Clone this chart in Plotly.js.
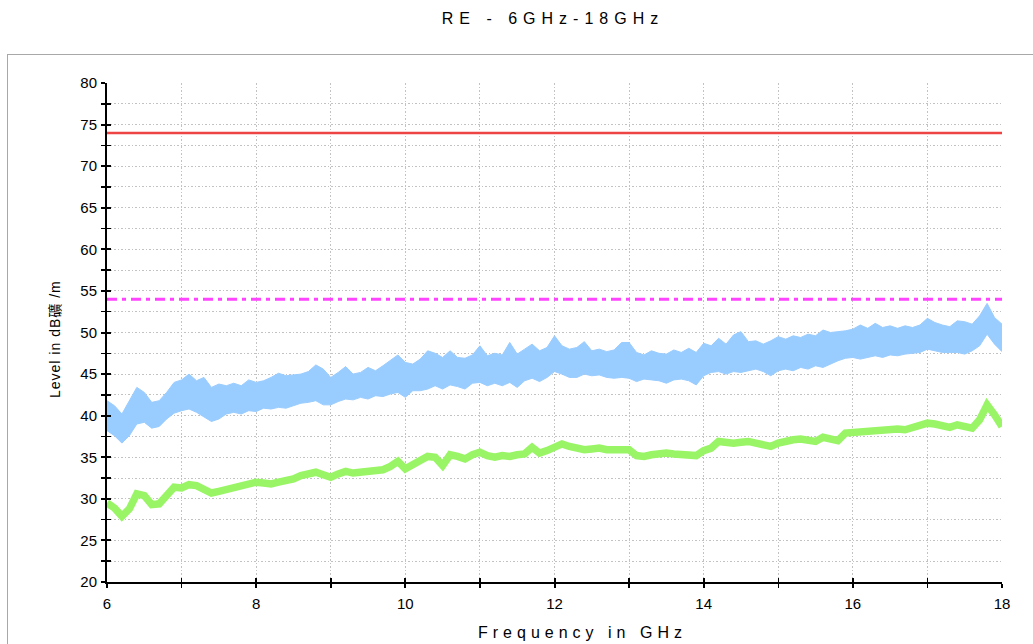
<!DOCTYPE html>
<html><head><meta charset="utf-8">
<script src="https://cdn.plot.ly/plotly-3.0.1.min.js"></script>
<style>
html,body{margin:0;padding:0;background:#fff;overflow:hidden;width:1033px;height:644px;}
#frame{position:absolute;left:7px;top:54px;width:1200px;height:800px;border-left:1px solid #a8a8a8;border-top:1px solid #a8a8a8;pointer-events:none;z-index:5;}
#plot{position:absolute;left:0;top:0;width:1033px;height:644px;}
</style></head>
<body>
<div id="plot"></div>
<div id="frame"></div>
<script>
// Limit lines
const limitFreq = [6, 18];
const peakLimit = [74, 74];
const avgLimit = [54, 54];

// Peak detector band, read every 0.1 GHz (upper and lower envelope, dBuV/m)
const peakFreq = [6.0,6.1,6.2,6.3,6.4,6.5,6.6,6.7,6.8,6.9,7.0,7.1,7.2,7.3,7.4,7.5,7.6,7.7,7.8,7.9,8.0,8.1,8.2,8.3,8.4,8.5,8.6,8.7,8.8,8.9,9.0,9.1,9.2,9.3,9.4,9.5,9.6,9.7,9.8,9.9,10.0,10.1,10.2,10.3,10.4,10.5,10.6,10.7,10.8,10.9,11.0,11.1,11.2,11.3,11.4,11.5,11.6,11.7,11.8,11.9,12.0,12.1,12.2,12.3,12.4,12.5,12.6,12.7,12.8,12.9,13.0,13.1,13.2,13.3,13.4,13.5,13.6,13.7,13.8,13.9,14.0,14.1,14.2,14.3,14.4,14.5,14.6,14.7,14.8,14.9,15.0,15.1,15.2,15.3,15.4,15.5,15.6,15.7,15.8,15.9,16.0,16.1,16.2,16.3,16.4,16.5,16.6,16.7,16.8,16.9,17.0,17.1,17.2,17.3,17.4,17.5,17.6,17.7,17.8,17.9,18.0];
const peakUpper = [41.8,41.2,40.2,41.8,43.4,42.8,41.6,41.8,42.8,44.0,44.3,45.0,44.2,44.6,43.4,43.8,43.6,43.9,43.6,44.3,44.0,44.2,44.6,45.1,44.8,44.9,45.0,45.3,46.1,45.6,44.6,45.2,45.9,45.0,45.2,45.8,45.4,46.0,46.6,47.3,46.4,46.2,46.8,47.8,47.5,47.0,47.8,47.0,46.9,47.3,48.4,47.2,47.5,47.3,48.8,47.4,48.0,48.6,47.8,48.2,49.6,48.4,48.0,48.2,48.9,47.8,48.0,47.7,47.9,48.8,48.8,47.6,47.3,47.8,47.5,47.4,47.9,47.6,48.1,47.6,48.7,48.4,49.3,48.6,49.7,50.1,48.9,49.0,48.6,49.0,49.5,49.2,49.6,49.4,49.8,49.6,50.3,50.0,50.1,50.2,50.4,50.9,50.5,51.1,50.6,50.8,50.5,50.8,50.6,50.9,51.7,51.2,50.9,50.7,51.4,51.3,51.0,52.0,53.5,51.8,51.0];
const peakLower = [38.2,37.6,36.7,37.6,39.0,39.2,38.5,38.7,39.6,40.3,40.6,40.8,40.4,39.8,39.3,39.6,40.2,40.4,40.2,40.6,40.5,40.9,40.8,41.0,40.9,41.2,41.5,41.6,41.8,41.3,41.3,41.7,42.0,41.9,42.2,42.0,42.4,42.3,42.6,42.8,42.2,43.0,43.0,43.2,43.6,43.2,43.7,43.5,43.2,43.9,44.0,43.6,43.9,43.6,44.0,43.4,44.2,44.5,44.1,44.6,45.3,45.0,44.6,44.6,45.0,44.8,44.9,44.6,44.5,44.6,44.5,44.1,44.4,44.3,44.2,43.9,44.3,44.4,44.2,43.7,44.8,45.2,45.3,45.0,45.3,45.2,45.4,45.6,45.3,44.8,45.4,45.6,45.4,45.8,45.6,46.0,45.8,46.2,46.6,46.9,47.0,46.8,47.0,47.2,47.0,47.3,47.2,47.4,47.5,47.6,48.0,47.8,47.6,47.6,47.6,47.4,47.8,48.4,49.8,48.6,47.7];

// Average detector trace, read every 0.1 GHz
const avgFreq = peakFreq;
const avgLevel = [29.5,28.9,27.9,28.8,30.6,30.4,29.3,29.4,30.4,31.4,31.3,31.7,31.6,31.1,30.7,30.9,31.1,31.3,31.4,31.6,32.0,31.9,31.8,32.0,32.1,32.4,32.8,33.0,33.2,32.9,32.6,33.0,33.3,33.1,33.2,33.4,33.3,33.5,33.9,34.5,33.6,34.2,34.6,35.1,35.0,34.0,35.3,35.1,34.8,35.3,35.6,35.2,35.0,35.2,35.1,35.3,35.4,36.2,35.5,35.8,36.3,36.6,36.3,36.1,35.9,36.0,36.1,35.9,35.9,35.8,35.9,35.2,35.1,35.3,35.5,35.5,35.4,35.3,35.4,35.2,35.8,36.1,36.9,36.7,36.7,36.8,36.9,36.7,36.5,36.3,36.7,37.0,37.1,37.2,37.0,36.9,37.4,37.3,37.0,37.9,38.0,38.1,38.1,38.2,38.3,38.5,38.4,38.3,38.6,38.9,39.1,39.0,38.9,38.6,38.9,38.6,38.5,39.5,41.3,40.1,38.7];

const xTicks = [6, 8, 10, 12, 14, 16, 18];
const yTicks = [20, 25, 30, 35, 40, 45, 50, 55, 60, 65, 70, 75, 80];

const traces = [
  {x: peakFreq, y: peakLower, mode: 'lines', line: {color: '#99CCFF', width: 1}, hoverinfo: 'skip', showlegend: false},
  {x: peakFreq, y: peakUpper, mode: 'lines', fill: 'tonexty', fillcolor: '#99CCFF', line: {color: '#99CCFF', width: 1}, showlegend: false},
  {x: avgFreq, y: avgLevel, mode: 'lines', line: {color: '#99F566', width: 7.5}, showlegend: false},
  {x: limitFreq, y: avgLimit, mode: 'lines', line: {color: '#FF44FF', width: 3, dash: '10px,5px,4px,5px'}, showlegend: false},
  {x: limitFreq, y: peakLimit, mode: 'lines', line: {color: '#EE4444', width: 2.5}, showlegend: false, xaxis: 'x2', yaxis: 'y2'}
];

const tickFont = {family: 'Liberation Sans, Arial, sans-serif', size: 15, color: '#000'};
const gridStyle = {showgrid: true, gridcolor: '#c2c2c2', griddash: '1.5px,2px', gridwidth: 1};
const minorGrid = {showgrid: true, gridcolor: '#c2c2c2', griddash: '1.5px,2px', gridwidth: 1};

const layout = {
  width: 1033, height: 644,
  margin: {l: 107, r: 31, t: 83, b: 62},
  paper_bgcolor: 'rgba(0,0,0,0)', plot_bgcolor: '#fff',
  showlegend: false,
  title: {
    text: '<span style="letter-spacing:6px">RE - 6GHz-18GHz</span>',
    font: {family: 'Liberation Sans, Arial, sans-serif', size: 16, color: '#000'},
    xref: 'container', x: 553/1033, xanchor: 'center',
    yref: 'container', y: 1 - 18/644, yanchor: 'middle'
  },
  xaxis: Object.assign({
    range: [6, 18], tickvals: xTicks, ticktext: xTicks.map(String),
    ticks: 'outside', ticklen: 4, tickwidth: 2, tickcolor: '#000',
    showline: true, linecolor: '#000', linewidth: 2, zeroline: false,
    tickfont: tickFont, ticklabelstandoff: 3,
    minor: Object.assign({dtick: 1, tick0: 6, ticks: 'outside', ticklen: 4, tickwidth: 1.5, tickcolor: '#000'}, minorGrid)
  }, gridStyle),
  yaxis: Object.assign({
    range: [20, 80], tickvals: yTicks, ticktext: yTicks.map(String),
    ticks: 'outside', ticklen: 4, tickwidth: 2, tickcolor: '#000',
    showline: true, linecolor: '#000', linewidth: 2, zeroline: false,
    tickfont: tickFont, ticklabelstandoff: 1,
    minor: Object.assign({dtick: 2.5, tick0: 20, ticks: 'outside', ticklen: 4, tickwidth: 1.5, tickcolor: '#000'}, minorGrid)
  }, gridStyle),
  xaxis2: {
    overlaying: 'x', range: [6, 18], tickvals: xTicks, showticklabels: false,
    ticks: 'inside', ticklen: 4, tickwidth: 2, tickcolor: '#000', showgrid: false, zeroline: false,
    minor: {dtick: 1, tick0: 6, ticks: 'inside', ticklen: 4, tickwidth: 1.5, tickcolor: '#000'}
  },
  yaxis2: {
    overlaying: 'y', range: [20, 80], tickvals: yTicks, showticklabels: false,
    ticks: 'inside', ticklen: 4, tickwidth: 2, tickcolor: '#000', showgrid: false, zeroline: false,
    minor: {dtick: 2.5, tick0: 20, ticks: 'inside', ticklen: 4, tickwidth: 1.5, tickcolor: '#000'}
  },
  annotations: [
    {text: '<span style="letter-spacing:5px">Frequency in GHz</span>', xref: 'paper', yref: 'paper',
     x: (582 - 107) / 895, y: -(632 - 582) / 499, xanchor: 'center', yanchor: 'middle', showarrow: false,
     font: {family: 'Liberation Sans, Arial, sans-serif', size: 16, color: '#000'}},
    {text: '<span style="letter-spacing:1px">Level in dB礦 /m</span>', xref: 'paper', yref: 'paper',
     x: -(107 - 55) / 895, y: (582 - 339) / 499, xanchor: 'center', yanchor: 'middle', showarrow: false, textangle: -90,
     font: {family: 'Liberation Sans, Arial, "Noto Sans CJK TC", sans-serif', size: 14, color: '#000'}}
  ]
};

Plotly.newPlot('plot', traces, layout, {staticPlot: true, displayModeBar: false});
</script>
</body></html>
